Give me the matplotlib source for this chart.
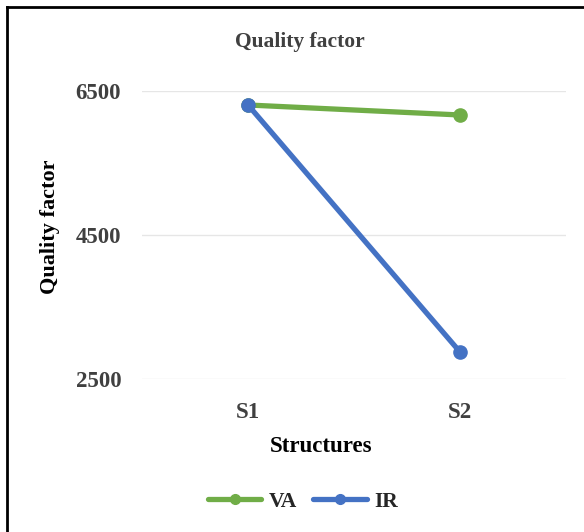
import matplotlib
matplotlib.use("Agg")
import matplotlib.pyplot as plt
from matplotlib.lines import Line2D

structures = ["S1", "S2"]
va_values = [6305, 6166]
ir_values = [6305, 2869]
y_ticks = [2500, 4500, 6500]

plt.rcParams['font.family'] = ['Liberation Serif', 'DejaVu Serif']

fig = plt.figure(figsize=(5.84, 5.32), dpi=100)
ax = fig.add_axes([0.2432, 0.2885, 0.7260, 0.5405])

green = "#70AD47"
blue = "#4472C4"
x = range(len(structures))
ax.plot(x, va_values, color=green, lw=3.8, marker="o", ms=9.5,
        solid_capstyle="round", label="VA", zorder=3)
ax.plot(x, ir_values, color=blue, lw=3.8, marker="o", ms=9.5,
        solid_capstyle="round", label="IR", zorder=4)

ax.set_xlim(-0.5, 1.5)
ax.set_ylim(2500, 6500)
ax.set_yticks(y_ticks)
ax.set_yticklabels([str(v) for v in y_ticks], fontsize=16.5, fontweight="bold", color="#404040")
ax.set_xticks(list(x))
ax.set_xticklabels(structures, fontsize=16.5, fontweight="bold", color="#404040")
ax.tick_params(axis="both", length=0)
ax.tick_params(axis="y", pad=15)
ax.tick_params(axis="x", pad=17)
ax.grid(axis="y", color="#E6E6E6", lw=1)
ax.set_axisbelow(True)
for s in ax.spines.values():
    s.set_visible(False)

fig.text(0.514, 0.921, "Quality factor", ha="center", va="center",
         fontsize=15.5, fontweight="bold", color="#404040")
fig.text(0.085, 0.574, "Quality factor", ha="center", va="center", rotation=90,
         fontsize=16, fontweight="bold", color="black")
fig.text(0.55, 0.161, "Structures", ha="center", va="center",
         fontsize=16.5, fontweight="bold", color="black")

handles = [Line2D([], [], color=green, lw=3.8, marker="o", ms=7, solid_capstyle="round"),
           Line2D([], [], color=blue, lw=3.8, marker="o", ms=7, solid_capstyle="round")]
fig.legend(handles, ["VA", "IR"], loc="center", bbox_to_anchor=(0.519, 0.057), ncol=2,
           frameon=False, handlelength=2.5, columnspacing=0.75, handletextpad=0.35,
           prop={"family": "Liberation Serif", "weight": "bold", "size": 15.5})
for t in fig.legends[0].get_texts():
    t.set_color("#262626")

# frame lines on left and top edges
fig.add_artist(Line2D([0.012, 0.012], [0, 0.987], transform=fig.transFigure, color="black", lw=2))
fig.add_artist(Line2D([0.012, 1.0], [0.987, 0.987], transform=fig.transFigure, color="black", lw=2))

fig.savefig("out.png", dpi=100)
